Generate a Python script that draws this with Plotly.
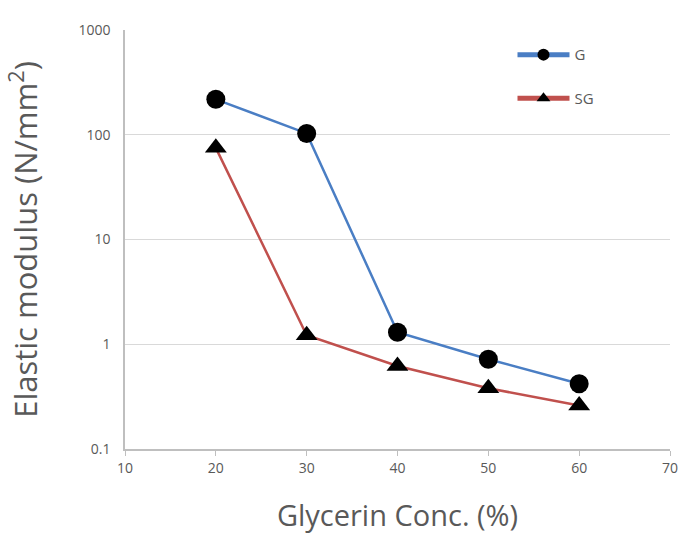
import plotly.graph_objects as go

# Glycerin concentration (%) and elastic modulus (N/mm^2)
glycerin = [20, 30, 40, 50, 60]
modulus_g = [218, 103, 1.3, 0.72, 0.42]
modulus_sg = [75, 1.22, 0.62, 0.38, 0.26]

x_ticks = [10, 20, 30, 40, 50, 60, 70]
y_ticks = [0.1, 1, 10, 100, 1000]
y_tick_labels = ["0.1", "1", "10", "100", "1000"]

BLUE = "#4A7EC4"
RED = "#C0504D"
GRAY_TEXT = "#595959"
FONT = "Open Sans, Liberation Sans, sans-serif"

fig = go.Figure()
fig.add_trace(go.Scatter(
    x=glycerin, y=modulus_g, name="G", mode="lines+markers",
    legendgroup="g",
    line=dict(color=BLUE, width=2.5),
    marker=dict(symbol="circle", size=19, color="black"),
))
fig.add_trace(go.Scatter(
    x=glycerin, y=modulus_sg, name="SG", mode="lines+markers",
    legendgroup="sg",
    line=dict(color=RED, width=2.5),
    marker=dict(symbol="triangle-up", size=19, color="black"),
))

fig.update_layout(
    width=683, height=540,
    margin=dict(l=125, r=13, t=30, b=91),
    paper_bgcolor="white", plot_bgcolor="white",
    font=dict(family=FONT, color=GRAY_TEXT),
    legend=dict(
        x=0.711, y=0.98, xanchor="left", yanchor="top",
        font=dict(size=15, color=GRAY_TEXT),
        tracegroupgap=21, itemwidth=52, itemsizing="constant",
        bgcolor="rgba(0,0,0,0)",
    ),
    xaxis=dict(
        range=[10, 70], tickvals=x_ticks,
        automargin=False,
        showgrid=False, zeroline=False,
        showline=True, linecolor="#BFBFBF", linewidth=1.5,
        ticks="outside", tickcolor="#BFBFBF", ticklen=5,
        tickfont=dict(size=14, color=GRAY_TEXT),
        title=dict(text="Glycerin Conc. (%)", font=dict(size=29, color=GRAY_TEXT), standoff=30),
    ),
    yaxis=dict(
        type="log", range=[-1, 3],
        tickvals=y_ticks, ticktext=y_tick_labels,
        showgrid=True, gridcolor="#D9D9D9", gridwidth=1,
        zeroline=False,
        showline=True, linecolor="#BFBFBF", linewidth=1.5,
        ticks="", tickfont=dict(size=14, color=GRAY_TEXT),
        ticklabelstandoff=10,
        title=dict(text="Elastic modulus (N/mm<sup>2</sup>)", font=dict(size=31, color=GRAY_TEXT), standoff=32),
    ),
)

fig.write_html("out.html")
